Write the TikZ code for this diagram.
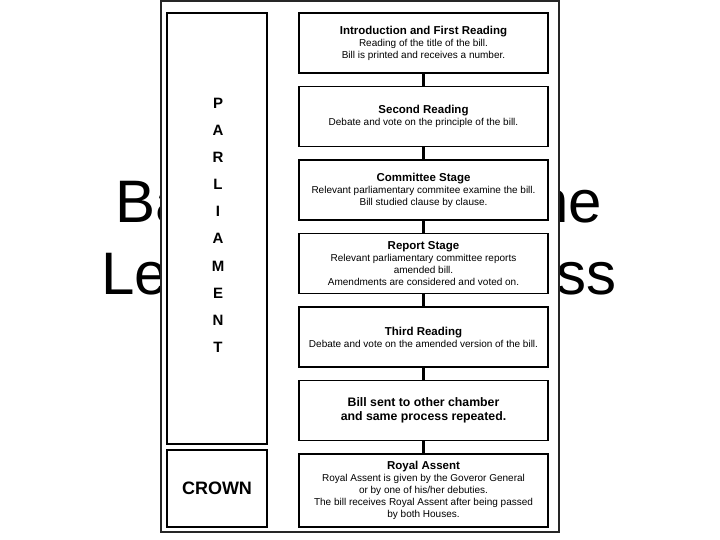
\documentclass[tikz,border=0pt]{standalone}
\usepackage{fontspec}
\setmainfont{Liberation Sans}
\usepackage{tikz}
\usetikzlibrary{positioning}
\newcommand{\stagehead}[1]{{\bfseries\fontsize{11.5}{13}\selectfont #1}\\}

\begin{document}
\begin{tikzpicture}[x=1pt, y=1pt, node distance=13.5pt,
    stage/.style={draw, line width=1.6pt, minimum width=249pt, minimum height=60pt,
                  inner sep=2pt, outer sep=0pt, align=center, font=\fontsize{10}{12}\selectfont},
    house/.style={draw, line width=1.6pt, minimum width=100pt, outer sep=0pt, align=center},
    letter/.style={anchor=base, inner sep=0pt, font=\bfseries\fontsize{15}{17}\selectfont},
    link/.style={line width=3pt},
    title/.style={font=\fontsize{60}{72}\selectfont, inner sep=0pt}]
  \useasboundingbox (0,0) rectangle (720,540);
  % title pieces showing beside the panel
  \node[title, anchor=base west] (titleBa) at (115,317) {Ba};
  \node[title, anchor=base east] (titlehe) at (602,317) {he};
  \node[title, anchor=base west] (titleLe) at (101,245) {Le};
  \node[title, anchor=base east] (titless) at (617,245) {ss};
  \node[draw=black!85, line width=1.5pt, fill=white, minimum width=398pt,
        minimum height=531pt, outer sep=0pt] (frame) at (360,273.5) {};
  % stages of the bill
  \node[stage, anchor=north] (intro) at (423.5,527)
    {\stagehead{Introduction and First Reading}Reading of the title of the bill.\\Bill is printed and receives a number.};
  \node[stage, below=of intro] (second)
    {\stagehead{Second Reading}Debate and vote on the principle of the bill.};
  \node[stage, below=of second] (committee)
    {\stagehead{Committee Stage}Relevant parliamentary commitee examine the bill.\\Bill studied clause by clause.};
  \node[stage, below=of committee] (report)
    {\stagehead{Report Stage}Relevant parliamentary committee reports\\amended bill.\\Amendments are considered and voted on.};
  \node[stage, below=of report] (third)
    {\stagehead{Third Reading}Debate and vote on the amended version of the bill.};
  \node[stage, below=of third, font=\bfseries\fontsize{12.3}{14}\selectfont] (other)
    {Bill sent to other chamber\\and same process repeated.};
  \node[stage, below=of other, minimum height=73pt] (assent)
    {\stagehead{Royal Assent}Royal Assent is given by the Goveror General\\or by one of his/her debuties.\\The bill receives Royal Assent after being passed\\by both Houses.};
  \foreach \a/\b in {intro/second, second/committee, committee/report,
                     report/third, third/other, other/assent}
    \draw[link] (\a) -- (\b);
  % houses
  \node[house, minimum height=431pt, anchor=north west] (parl) at (167,527) {};
  \foreach \l [count=\i] in {P,A,R,L,I,A,M,E,N,T}
    \node[letter] (letter\i) at (218,540-108.5-27.1*\i+27.1) {\l};
  \node[house, minimum height=77pt, below=6pt of parl, font=\bfseries\fontsize{18}{20}\selectfont] (crown) {CROWN};
\end{tikzpicture}
\end{document}
